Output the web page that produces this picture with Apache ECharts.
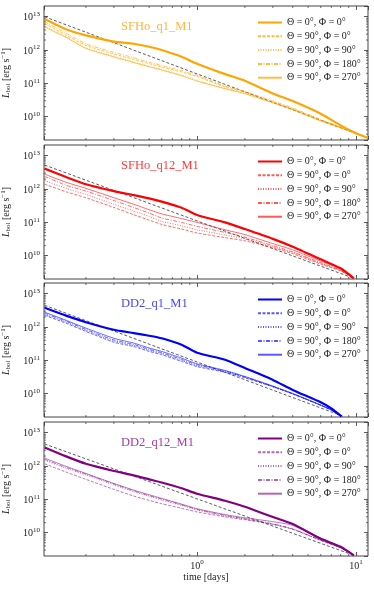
<!DOCTYPE html>
<html>
<head>
<meta charset="utf-8">
<script src="https://cdn.jsdelivr.net/npm/echarts@6/dist/echarts.min.js"></script>
<style>
  html, body { margin: 0; padding: 0; background: #fff; }
  #chart { width: 374px; height: 590px; }
</style>
</head>
<body>
<div id="chart"></div>
<script>
// ---- data (time in days, L_bol in erg/s) ----
const legendLabels = ['Θ = 0°, Φ = 0°', 'Θ = 90°, Φ = 0°', 'Θ = 90°, Φ = 90°', 'Θ = 90°, Φ = 180°', 'Θ = 90°, Φ = 270°']
const panelTitles = ['SFHo_q1_M1', 'SFHo_q12_M1', 'DD2_q1_M1', 'DD2_q12_M1']

// SFHo_q1_M1
const timeSFHoQ1 = [0.11, 0.15, 0.2, 0.3, 0.4, 0.5, 0.6, 0.8, 1, 1.5, 2, 3, 4, 6, 8, 10, 11.9]
const sfhoQ1_th0 = [8.5e12, 4.2e12, 2.75e12, 1.8e12, 1.55e12, 1.26e12, 1.0e12, 6.3e11, 3.9e11, 1.9e11, 1.2e11, 5.0e10, 2.95e10, 1.23e10, 5.5e9, 3.2e9, 2.3e9]
const sfhoQ1_ph0 = [6.3e12, 2.8e12, 1.38e12, 7.6e11, 5.25e11, 3.9e11, 3.1e11, 2.2e11, 1.62e11, 7.8e10, 5.4e10, 2.8e10, 1.74e10, 7.9e9, 4.8e9, 3.2e9, 2.3e9]
const sfhoQ1_ph90 = [5.25e12, 2.5e12, 1.17e12, 6.5e11, 4.4e11, 3.3e11, 2.6e11, 1.78e11, 1.23e11, 7.1e10, 5.0e10, 2.7e10, 1.66e10, 7.6e9, 4.7e9, 3.16e9, 2.3e9]
const sfhoQ1_ph180 = [7.1e12, 3.2e12, 1.55e12, 8.5e11, 5.9e11, 4.3e11, 3.4e11, 2.4e11, 1.74e11, 8.3e10, 5.75e10, 2.95e10, 1.82e10, 8.3e9, 5.0e9, 3.3e9, 2.3e9]
const sfhoQ1_ph270 = [4.9e12, 2.4e12, 1.12e12, 6.2e11, 4.2e11, 3.16e11, 2.5e11, 1.7e11, 1.17e11, 6.9e10, 4.9e10, 2.6e10, 1.62e10, 7.4e9, 4.6e9, 3.16e9, 2.3e9]
const refTimeSFHoQ1 = [0.11, 11.9]
const refSFHoQ1 = [1.0e13, 2.3e9]

// SFHo_q12_M1
const timeSFHoQ12 = [0.11, 0.15, 0.2, 0.3, 0.4, 0.5, 0.6, 0.8, 1, 1.5, 2, 3, 4, 6, 8, 9.7]
const sfhoQ12_th0 = [4.1e12, 2.3e12, 1.4e12, 8.7e11, 6.6e11, 5.25e11, 4.2e11, 2.75e11, 1.66e11, 1.0e11, 6.3e10, 3.2e10, 1.86e10, 7.8e9, 4.2e9, 2.1e9]
const sfhoQ12_ph0 = [1.4e12, 8.3e11, 5.5e11, 2.8e11, 1.7e11, 1.17e11, 8.7e10, 6.3e10, 4.8e10, 3.5e10, 2.8e10, 1.74e10, 1.15e10, 5.6e9, 3.5e9, 2.1e9]
const sfhoQ12_ph90 = [1.8e12, 1.05e12, 6.9e11, 3.5e11, 2.2e11, 1.5e11, 1.07e11, 7.9e10, 6.0e10, 4.2e10, 3.2e10, 1.86e10, 1.23e10, 5.9e9, 3.6e9, 2.1e9]
const sfhoQ12_ph180 = [2.4e12, 1.3e12, 8.7e11, 4.5e11, 2.8e11, 1.9e11, 1.35e11, 1.0e11, 7.6e10, 5.0e10, 3.6e10, 2.0e10, 1.3e10, 6.2e9, 3.7e9, 2.1e9]
const sfhoQ12_ph270 = [2.8e12, 1.6e12, 1.05e12, 5.5e11, 3.5e11, 2.4e11, 1.8e11, 1.3e11, 1.0e11, 6.0e10, 4.3e10, 2.3e10, 1.5e10, 6.9e9, 4.0e9, 2.1e9]
const refTimeSFHoQ12 = [0.11, 9.7]
const refSFHoQ12 = [5.25e12, 2.1e9]

// DD2_q1_M1
const timeDD2Q1 = [0.11, 0.15, 0.2, 0.3, 0.4, 0.5, 0.6, 0.8, 1, 1.5, 2, 3, 4, 6, 7, 8.1]
const dd2Q1_th0 = [3.8e12, 2.2e12, 1.4e12, 8.3e11, 6.6e11, 5.5e11, 4.6e11, 2.95e11, 1.7e11, 1.05e11, 5.9e10, 2.6e10, 1.3e10, 5.5e9, 3.6e9, 2.1e9]
const dd2Q1_ph0 = [2.25e12, 1.3e12, 7.4e11, 3.5e11, 2.6e11, 1.86e11, 1.48e11, 9.3e10, 6.5e10, 4.4e10, 3.0e10, 1.62e10, 9.8e9, 4.5e9, 3.2e9, 2.1e9]
const dd2Q1_ph90 = [2.4e12, 1.4e12, 7.9e11, 3.8e11, 2.8e11, 2.0e11, 1.6e11, 1.0e11, 6.9e10, 4.6e10, 3.1e10, 1.6e10, 9.8e9, 4.5e9, 3.2e9, 2.1e9]
const dd2Q1_ph180 = [2.6e12, 1.5e12, 8.5e11, 4.1e11, 3.0e11, 2.15e11, 1.7e11, 1.07e11, 7.4e10, 4.8e10, 3.2e10, 1.66e10, 1.0e10, 4.5e9, 3.2e9, 2.1e9]
const dd2Q1_ph270 = [2.8e12, 1.6e12, 9.3e11, 4.6e11, 3.3e11, 2.35e11, 1.86e11, 1.17e11, 7.9e10, 5.0e10, 3.3e10, 1.7e10, 1.02e10, 4.6e9, 3.3e9, 2.1e9]
const refTimeDD2Q1 = [0.11, 8.3]
const refDD2Q1 = [4.5e12, 2.1e9]

// DD2_q12_M1
const timeDD2Q12 = [0.11, 0.15, 0.2, 0.3, 0.4, 0.5, 0.6, 0.8, 1, 1.5, 2, 3, 4, 6, 8, 9.7]
const dd2Q12_th0 = [3.6e12, 1.95e12, 1.17e12, 7.1e11, 5.25e11, 4.0e11, 3.2e11, 2.15e11, 1.48e11, 9.1e10, 6.0e10, 2.95e10, 1.82e10, 6.6e9, 3.8e9, 2.1e9]
const dd2Q12_ph0 = [1.17e12, 6.6e11, 4.0e11, 2.0e11, 1.26e11, 9.3e10, 7.4e10, 5.4e10, 4.2e10, 3.0e10, 2.45e10, 1.78e10, 1.26e10, 5.9e9, 3.5e9, 2.1e9]
const dd2Q12_ph90 = [1.5e12, 8.5e11, 5.4e11, 2.7e11, 1.7e11, 1.23e11, 9.5e10, 6.6e10, 4.8e10, 3.2e10, 2.6e10, 1.8e10, 1.29e10, 5.9e9, 3.5e9, 2.1e9]
const dd2Q12_ph180 = [1.6e12, 9.1e11, 5.75e11, 2.9e11, 1.8e11, 1.3e11, 1.02e11, 6.9e10, 5.0e10, 3.3e10, 2.6e10, 1.86e10, 1.3e10, 6.0e9, 3.5e9, 2.1e9]
const dd2Q12_ph270 = [1.74e12, 9.8e11, 6.0e11, 3.0e11, 1.9e11, 1.38e11, 1.07e11, 7.2e10, 5.25e10, 3.5e10, 2.8e10, 2.15e10, 1.66e10, 6.9e9, 3.7e9, 2.1e9]
const refTimeDD2Q12 = [0.11, 9.7]
const refDD2Q12 = [4.6e12, 2.1e9]

// minor tick positions (matplotlib style log minors)
const minorTimeTicks = [0.2, 0.3, 0.4, 0.5, 0.6, 0.7, 0.8, 0.9, 2, 3, 4, 5, 6, 7, 8, 9]
const minorLumTicks = [3e9, 4e9, 5e9, 6e9, 7e9, 8e9, 9e9, 2e10, 3e10, 4e10, 5e10, 6e10, 7e10, 8e10, 9e10,
  2e11, 3e11, 4e11, 5e11, 6e11, 7e11, 8e11, 9e11, 2e12, 3e12, 4e12, 5e12, 6e12, 7e12, 8e12, 9e12]

const X_MIN = 0.109, X_MAX = 11.9
const Y_MIN = 2e9, Y_MAX = 2.1e13

const SERIF = '"Liberation Serif", "DejaVu Serif", serif'
const gridTops = [6, 145, 283, 422]
const gridHeight = 134

const panels = [
  { time: timeSFHoQ1, curves: [sfhoQ1_th0, sfhoQ1_ph0, sfhoQ1_ph90, sfhoQ1_ph180, sfhoQ1_ph270], refTime: refTimeSFHoQ1, ref: refSFHoQ1,
    color: '#ffa500', thin: 'rgba(255,165,0,0.75)', titleColor: '#ffb43c' },
  { time: timeSFHoQ12, curves: [sfhoQ12_th0, sfhoQ12_ph0, sfhoQ12_ph90, sfhoQ12_ph180, sfhoQ12_ph270], refTime: refTimeSFHoQ12, ref: refSFHoQ12,
    color: '#ff0000', thin: 'rgba(255,0,0,0.65)', titleColor: '#ff3c3c' },
  { time: timeDD2Q1, curves: [dd2Q1_th0, dd2Q1_ph0, dd2Q1_ph90, dd2Q1_ph180, dd2Q1_ph270], refTime: refTimeDD2Q1, ref: refDD2Q1,
    color: '#0000ff', thin: 'rgba(0,0,255,0.65)', titleColor: '#4646ff' },
  { time: timeDD2Q12, curves: [dd2Q12_th0, dd2Q12_ph0, dd2Q12_ph90, dd2Q12_ph180, dd2Q12_ph270], refTime: refTimeDD2Q12, ref: refDD2Q12,
    color: '#800080', thin: 'rgba(128,0,128,0.6)', titleColor: '#a040a0' }
]

// line styles: thick solid, dashed, dotted, dash-dot, thin solid
const lineTypes = ['solid', [3, 1.5], [1, 1.5], [4, 1.5, 1, 1.5], 'solid']

const powRich = {
  b: { fontSize: 10, fontFamily: SERIF, color: '#222', lineHeight: 12, verticalAlign: 'bottom' },
  s: { fontSize: 7, fontFamily: SERIF, color: '#222', lineHeight: 4, verticalAlign: 'top' }
}

const powLabel = (v) => {
  const lg = Math.log10(v)
  const e = Math.round(lg)
  if (Math.abs(lg - e) > 1e-6) return ''
  return '{b|10}{s|' + e + '}'
}

const tickStyle = { show: true, inside: true, length: 4, lineStyle: { color: '#333', width: 0.8 } }

const chart = echarts.init(document.getElementById('chart'))

const grid = []
const xAxis = []
const yAxis = []
const series = []
const legend = []
const title = []

panels.forEach((p, i) => {
  grid.push({
    left: 44, right: 6, top: gridTops[i], height: gridHeight, containLabel: false, outerBoundsMode: 'none',
    show: true, borderColor: '#444', borderWidth: 1, backgroundColor: 'transparent'
  })

  // bottom + top x axes
  xAxis.push({
    type: 'log', logBase: 10, gridIndex: i, min: X_MIN, max: X_MAX, position: 'bottom',
    axisLine: { show: false }, axisTick: tickStyle, splitLine: { show: false },
    axisLabel: { show: i === 3, formatter: powLabel, rich: powRich, margin: 3, showMinLabel: false, showMaxLabel: false },
    name: i === 3 ? 'time [days]' : '', nameLocation: 'middle', nameGap: 16,
    nameTextStyle: { fontFamily: SERIF, fontSize: 10, color: '#222' }
  })
  xAxis.push({
    type: 'log', logBase: 10, gridIndex: i, min: X_MIN, max: X_MAX, position: 'top',
    axisLine: { show: false }, axisTick: tickStyle, splitLine: { show: false }, axisLabel: { show: false }
  })

  // left + right y axes
  yAxis.push({
    type: 'log', logBase: 10, gridIndex: i, min: Y_MIN, max: Y_MAX, position: 'left',
    axisLine: { show: false }, axisTick: tickStyle, splitLine: { show: false },
    axisLabel: { formatter: powLabel, rich: powRich, margin: 4, showMinLabel: false, showMaxLabel: false },
    name: '{i|L}{sub|bol} [erg s{sup|−1}]', nameLocation: 'middle', nameRotate: 90, nameGap: 31,
    nameTextStyle: {
      rich: {
        i: { fontSize: 10, fontFamily: SERIF, fontStyle: 'italic', color: '#222', lineHeight: 12, verticalAlign: 'middle' },
        sub: { fontSize: 7, fontFamily: SERIF, color: '#222', lineHeight: 4, verticalAlign: 'bottom' },
        sup: { fontSize: 7, fontFamily: SERIF, color: '#222', lineHeight: 4, verticalAlign: 'top' }
      },
      fontSize: 10, fontFamily: SERIF, color: '#222', lineHeight: 12
    }
  })
  yAxis.push({
    type: 'log', logBase: 10, gridIndex: i, min: Y_MIN, max: Y_MAX, position: 'right',
    axisLine: { show: false }, axisTick: tickStyle, splitLine: { show: false }, axisLabel: { show: false }
  })

  const xb = 2 * i, yl = 2 * i

  // reference power law (black dashed)
  series.push({
    type: 'line', xAxisIndex: xb, yAxisIndex: yl, silent: true, symbol: 'none',
    data: p.refTime.map((t, k) => [t, p.ref[k]]),
    lineStyle: { color: '#333', width: 0.8, type: [3, 2] }, z: 3
  })

  // light-curves
  p.curves.forEach((vals, c) => {
    series.push({
      name: i + '|' + legendLabels[c],
      type: 'line', xAxisIndex: xb, yAxisIndex: yl, symbol: 'none', smooth: 0.2,
      data: p.time.map((t, k) => [t, vals[k]]),
      itemStyle: { color: c === 0 ? p.color : p.thin },
      lineStyle: { color: c === 0 ? p.color : p.thin, width: c === 0 ? 2.2 : 0.9, type: lineTypes[c] },
      z: c === 0 ? 5 : 4
    })
  })

  // minor ticks on x (bottom/top) and y (left/right)
  series.push({
    type: 'custom', xAxisIndex: xb, yAxisIndex: yl, silent: true, clip: false,
    data: minorTimeTicks.map(v => [v, Y_MIN]),
    renderItem: (params, api) => {
      const b = api.coord([api.value(0), Y_MIN])
      const t = api.coord([api.value(0), Y_MAX])
      const st = { stroke: '#333', lineWidth: 0.7 }
      return { type: 'group', children: [
        { type: 'line', shape: { x1: b[0], y1: b[1], x2: b[0], y2: b[1] - 2 }, style: st },
        { type: 'line', shape: { x1: t[0], y1: t[1], x2: t[0], y2: t[1] + 2 }, style: st }
      ] }
    }
  })
  series.push({
    type: 'custom', xAxisIndex: xb, yAxisIndex: yl, silent: true, clip: false,
    data: minorLumTicks.map(v => [X_MIN, v]),
    renderItem: (params, api) => {
      const l = api.coord([X_MIN, api.value(1)])
      const r = api.coord([X_MAX, api.value(1)])
      const st = { stroke: '#333', lineWidth: 0.7 }
      return { type: 'group', children: [
        { type: 'line', shape: { x1: l[0], y1: l[1], x2: l[0] + 2, y2: l[1] }, style: st },
        { type: 'line', shape: { x1: r[0], y1: r[1], x2: r[0] - 2, y2: r[1] }, style: st }
      ] }
    }
  })

  legend.push({
    data: legendLabels.map(l => i + '|' + l),
    formatter: (name) => name.split('|')[1],
    orient: 'vertical', left: 252, top: gridTops[i] + 5.5,
    itemWidth: 24, itemHeight: 12, itemGap: 1.8,
    selectedMode: false,
    itemStyle: { opacity: 0 },
    textStyle: { fontFamily: SERIF, fontSize: 10, color: '#222', lineHeight: 12 }
  })

  title.push({
    text: panelTitles[i], left: 116, top: gridTops[i] + 9,
    textStyle: { fontFamily: SERIF, fontSize: 12.5, fontWeight: 'normal', color: p.titleColor }
  })
})

chart.setOption({
  backgroundColor: '#fff',
  animation: false,
  title,
  legend,
  grid,
  xAxis,
  yAxis,
  series
})
</script>
</body>
</html>
